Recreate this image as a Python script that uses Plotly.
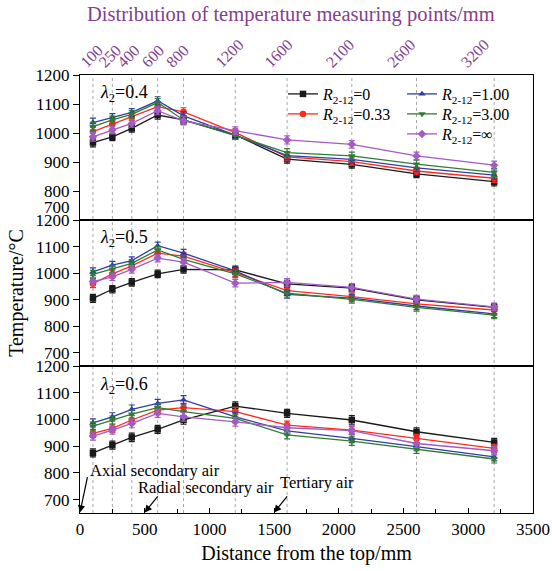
import plotly.graph_objects as go

# ---------------- data ----------------
points = [100, 250, 400, 600, 800, 1200, 1600, 2100, 2600, 3200]
point_labels = ["100", "250", "400", "600", "800", "1200", "1600", "2100", "2600", "3200"]

series_names = ["<i>R</i><sub>2-12</sub>=0", "<i>R</i><sub>2-12</sub>=0.33",
                "<i>R</i><sub>2-12</sub>=1.00", "<i>R</i><sub>2-12</sub>=3.00",
                "<i>R</i><sub>2-12</sub>=∞"]

# lambda2 = 0.4
l04_r0   = [967, 987, 1016, 1062, 1045, 993, 910, 892, 859, 832]
l04_r033 = [1005, 1030, 1056, 1091, 1073, 1001, 918, 901, 869, 844]
l04_r1   = [1036, 1054, 1071, 1111, 1059, 993, 922, 909, 880, 855]
l04_r3   = [1022, 1045, 1064, 1105, 1045, 991, 932, 921, 893, 864]
l04_rinf = [987, 1010, 1033, 1077, 1042, 1008, 976, 961, 921, 889]

# lambda2 = 0.5
l05_r0   = [905, 939, 965, 997, 1014, 1012, 959, 943, 899, 871]
l05_r033 = [960, 997, 1027, 1075, 1064, 1002, 934, 911, 884, 861]
l05_r1   = [1005, 1030, 1047, 1103, 1075, 1008, 920, 906, 876, 846]
l05_r3   = [995, 1015, 1037, 1087, 1052, 997, 924, 901, 871, 842]
l05_rinf = [968, 986, 1014, 1056, 1041, 962, 965, 946, 902, 873]

# lambda2 = 0.6
l06_r0   = [875, 904, 933, 963, 998, 1050, 1023, 998, 954, 914]
l06_r033 = [948, 967, 998, 1035, 1044, 1029, 979, 960, 929, 892]
l06_r1   = [987, 1010, 1038, 1060, 1073, 1010, 957, 929, 898, 860]
l06_r3   = [975, 998, 1020, 1044, 1029, 1004, 942, 919, 888, 852]
l06_rinf = [938, 960, 985, 1023, 1010, 991, 969, 958, 910, 883]

err04 = [15, 13, 13, 14, 14, 13, 14, 13, 13, 14]
err05 = [15, 14, 14, 14, 14, 14, 14, 14, 14, 14]
err06 = [15, 15, 16, 15, 16, 16, 15, 16, 15, 15]

lambda_labels = ["<i>λ</i><sub>2</sub>=0.4", "<i>λ</i><sub>2</sub>=0.5", "<i>λ</i><sub>2</sub>=0.6"]
x_ticks = [0, 500, 1000, 1500, 2000, 2500, 3000, 3500]
y_ticks_top = [800, 900, 1000, 1100, 1200]
y_ticks = [700, 800, 900, 1000, 1100, 1200]

air_labels = ["Axial secondary air", "Radial secondary air", "Tertiary air"]
air_positions = [0, 500, 1500]

top_title = "Distribution of temperature measuring points/mm"

# ---------------- style ----------------
FONT = "Liberation Serif"
colors = ["#1a1a1a", "#ff2a1f", "#2f3f9f", "#2e7d32", "#a35bc4"]
symbols = ["square", "circle", "triangle-up", "triangle-down", "diamond"]
purple = "#82408f"

W, H = 552, 571
PLOT_L, PLOT_T, PLOT_R, PLOT_B = 80, 75, 533, 513
PLOT_W, PLOT_H = PLOT_R - PLOT_L, PLOT_B - PLOT_T

panels = [
    ("x", "y", [l04_r0, l04_r033, l04_r1, l04_r3, l04_rinf], err04),
    ("x2", "y2", [l05_r0, l05_r033, l05_r1, l05_r3, l05_rinf], err05),
    ("x3", "y3", [l06_r0, l06_r033, l06_r1, l06_r3, l06_rinf], err06),
]
legend_ids = ["legend", "legend2", "legend3", "legend4", "legend5"]

fig = go.Figure()
for pi, (xa, ya, series, err) in enumerate(panels):
    for si, vals in enumerate(series):
        fig.add_trace(go.Scatter(
            x=points, y=vals, xaxis=xa, yaxis=ya,
            mode="lines+markers", name=series_names[si],
            line=dict(color=colors[si], width=1.3),
            marker=dict(symbol=symbols[si], size=6.5, color=colors[si]),
            error_y=dict(type="data", array=err, color=colors[si], thickness=1.2, width=3),
            showlegend=(pi == 0),
            legend=legend_ids[si],
        ))

# invisible trace for the top (measuring-point) label axis
fig.add_trace(go.Scatter(x=points, y=[1000] * len(points), xaxis="x4", yaxis="y",
                         mode="markers", marker=dict(opacity=0), showlegend=False,
                         hoverinfo="skip"))


def frac(px_top):
    return 1 - (px_top - PLOT_T) / PLOT_H


dom_bot = [0.0, frac(366)]
dom_mid = [frac(366), frac(220)]
dom_top = [frac(220), 1.0]

common_x = dict(range=[0, 3500], showline=True, linecolor="black", linewidth=1.3,
                mirror=True, showgrid=False, zeroline=False, automargin=False)
common_y = dict(showline=True, linecolor="black", linewidth=1.3, mirror=True,
                showgrid=False, zeroline=False, ticks="outside", ticklen=6,
                tickcolor="black", automargin=False,
                tickfont=dict(family=FONT, size=17, color="black"))


def legend_box(px_left, px_center_y):
    return dict(x=(px_left - PLOT_L) / PLOT_W,
                y=1 - (px_center_y - 16 - PLOT_T) / PLOT_H,
                xanchor="left", yanchor="top", bgcolor="rgba(0,0,0,0)",
                font=dict(family=FONT, size=16), itemwidth=30)


fig.update_layout(
    width=W, height=H,
    margin=dict(l=PLOT_L, r=W - PLOT_R, t=PLOT_T, b=H - PLOT_B),
    paper_bgcolor="white", plot_bgcolor="white",
    font=dict(family=FONT, size=17, color="black"),
    xaxis=dict(**common_x, anchor="y", matches="x3", showticklabels=False, ticks=""),
    xaxis2=dict(**common_x, anchor="y2", matches="x3", showticklabels=False, ticks=""),
    xaxis3=dict(**common_x, anchor="y3", tickvals=x_ticks, ticks="inside", ticklen=5,
                tickcolor="black",
                minor=dict(dtick=250, tick0=0, ticks="inside", ticklen=4, tickcolor="black"),
                tickfont=dict(family=FONT, size=17, color="black"),
                title=dict(text="Distance from the top/mm", font=dict(family=FONT, size=20),
                           standoff=8)),
    # the labels of the reference sit on a slightly compressed scale
    xaxis4=dict(range=[90, 3779], overlaying="x", side="top", anchor="y",
                tickvals=points, ticktext=point_labels, tickangle=-45, ticks="",
                showline=False, showgrid=False, zeroline=False, automargin=False,
                tickfont=dict(family=FONT, size=16, color=purple)),
    yaxis=dict(**common_y, domain=dom_top, anchor="x", range=[700, 1200], tickvals=y_ticks_top),
    yaxis2=dict(**common_y, domain=dom_mid, anchor="x2", range=[650, 1200], tickvals=y_ticks,
                title=dict(text="Temperature/°C", font=dict(family=FONT, size=20), standoff=6)),
    yaxis3=dict(**common_y, domain=dom_bot, anchor="x3", range=[650, 1200], tickvals=y_ticks),
    legend=legend_box(283, 93),
    legend2=legend_box(283, 113),
    legend3=legend_box(402, 93),
    legend4=legend_box(402, 113),
    legend5=legend_box(402, 133),
)

# title of the measuring-point axis
fig.add_annotation(xref="paper", yref="paper", x=(291 - PLOT_L) / PLOT_W,
                   y=1 + (PLOT_T - 15) / PLOT_H, text=top_title, showarrow=False,
                   xanchor="center", yanchor="middle",
                   font=dict(family=FONT, size=20.5, color=purple))

# vertical dotted lines at the measuring points, through all panels
for p in points:
    fig.add_shape(type="line", xref="x3", yref="paper", x0=p, x1=p, y0=0, y1=1,
                  line=dict(color="#a8a8a8", width=1, dash="dot"), layer="below")

# shifted '700' label of the top panel
fig.add_annotation(xref="paper", yref="y", x=0, y=700, text="700", showarrow=False,
                   xanchor="right", xshift=-8, yshift=13,
                   font=dict(family=FONT, size=17, color="black"))

# lambda labels
for yref, lab in zip(["y domain", "y2 domain", "y3 domain"], lambda_labels):
    fig.add_annotation(xref="x domain" if yref == "y domain" else yref.replace("y", "x", 1),
                       yref=yref, x=0.04, y=0.87, text=lab, showarrow=False,
                       xanchor="left", yanchor="middle",
                       font=dict(family=FONT, size=18, color="black"))

# air inlet annotations
text_pos = [(60, 810), (430, 745), (1530, 763)]
tail_pos = [(60, 790), (610, 718), (1610, 718)]
for lab, px, (tx, ty), (ax, ay) in zip(air_labels, air_positions, text_pos, tail_pos):
    fig.add_annotation(xref="x3", yref="y3", x=tx, y=ty, text=lab, showarrow=False,
                       xanchor="left", yanchor="middle",
                       font=dict(family=FONT, size=16.5, color="black"))
    fig.add_annotation(xref="x3", yref="y3", x=px, y=652, axref="x3", ayref="y3",
                       ax=ax, ay=ay, text="", showarrow=True, arrowhead=2,
                       arrowsize=1.2, arrowwidth=1.2, arrowcolor="black")

fig.write_html("out.html", config={"displayModeBar": False},
               post_script="document.body.style.margin='0';document.body.style.overflow='hidden';")
